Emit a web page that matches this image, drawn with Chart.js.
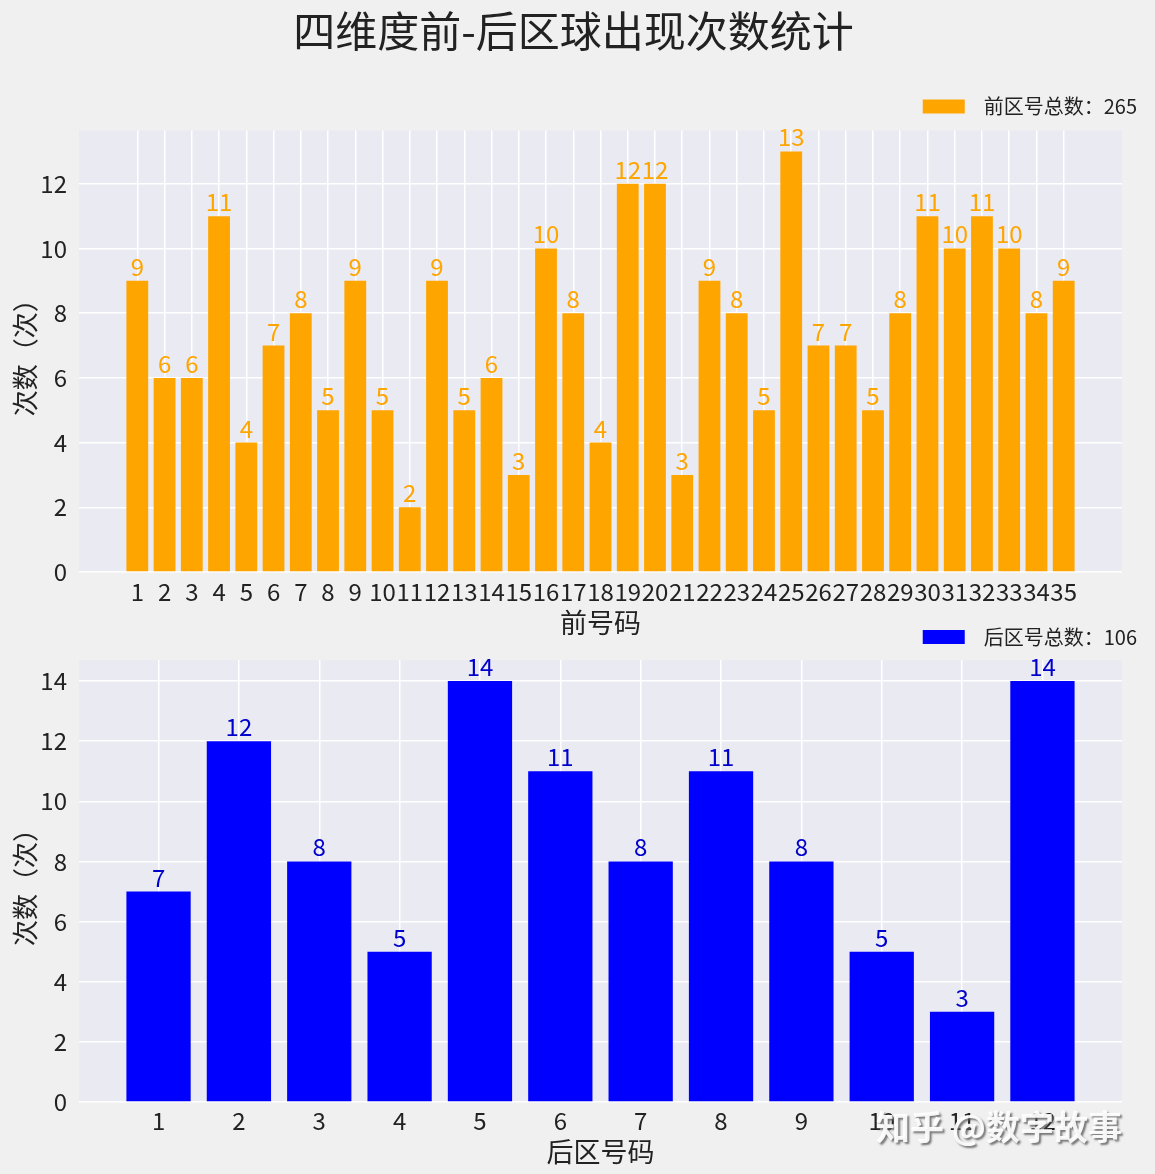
<!DOCTYPE html>
<html>
<head>
<meta charset="utf-8">
<script src="https://cdn.jsdelivr.net/npm/chart.js@4/dist/chart.umd.min.js"></script>
<style>
  html, body { margin: 0; padding: 0; background: #f0f0f0; }
  #wrap { position: relative; width: 1155px; height: 1174px; overflow: hidden; }
  canvas { position: absolute; left: 0; }
  #c1 { top: 0; }
  #c2 { top: 600px; }
  #wm { position: absolute; left: 876px; top: 1101px; font-family: "Noto Sans CJK SC"; font-size: 34px; font-weight: bold;
        color: rgba(255,255,255,0.92); text-shadow: 2px 2px 2px rgba(90,90,90,0.8); white-space: nowrap; }
</style>
</head>
<body>
<div id="wrap">
  <canvas id="c1" width="1155" height="645"></canvas>
  <canvas id="c2" width="1155" height="574"></canvas>
  <div id="wm">知乎 @数字故事</div>
</div>
<script>
// ---- data ----
const frontCategories = [1,2,3,4,5,6,7,8,9,10,11,12,13,14,15,16,17,18,19,20,21,22,23,24,25,26,27,28,29,30,31,32,33,34,35];
const frontValues = [9,6,6,11,4,7,8,5,9,5,2,9,5,6,3,10,8,4,12,12,3,9,8,5,13,7,7,5,8,11,10,11,10,8,9];
const backCategories = [1,2,3,4,5,6,7,8,9,10,11,12];
const backValues = [7,12,8,5,14,11,8,11,8,5,3,14];
const frontYTicks = [0,2,4,6,8,10,12];
const backYTicks = [0,2,4,6,8,10,12,14];
const chartTitle = '四维度前-后区球出现次数统计';
const yTitle = '次数（次）';
const frontXTitle = '前号码';
const backXTitle = '后区号码';
const frontLegend = '前区号总数：' + frontValues.reduce((a, b) => a + b, 0);
const backLegend = '后区号总数：' + backValues.reduce((a, b) => a + b, 0);

const FONT = '"Noto Sans CJK SC", "Noto Sans", sans-serif';
const TEXT = '#222222';
Chart.defaults.font.family = FONT;
Chart.defaults.color = TEXT;

const bgPlugin = {
  id: 'plotBg',
  beforeDraw(chart) {
    const a = chart.chartArea, ctx = chart.ctx;
    ctx.save();
    ctx.fillStyle = '#eaeaf2';
    ctx.fillRect(a.left, a.top, a.right - a.left, a.bottom - a.top);
    ctx.restore();
  }
};
const labelPlugin = {
  id: 'barLabels',
  afterDatasetsDraw(chart, args, opts) {
    const ctx = chart.ctx;
    const ds = chart.data.datasets[0];
    const meta = chart.getDatasetMeta(0);
    ctx.save();
    ctx.font = '24px ' + FONT;
    ctx.fillStyle = opts.color;
    ctx.textAlign = 'center';
    ctx.textBaseline = 'alphabetic';
    meta.data.forEach((el, i) => {
      ctx.fillText(String(ds.data[i].y), el.x, el.y - 5);
    });
    ctx.restore();
  }
};

function makeChart(id, cats, vals, color, labelColor, legendText, xTitle, xMin, xMax, yMax, yTicks, canvasH, plotBottom, withTitle, topPad, topGap, tickPad) {
  return new Chart(document.getElementById(id), {
    type: 'bar',
    data: {
      datasets: [{
        label: legendText,
        data: cats.map((c, i) => ({ x: c, y: vals[i] })),
        backgroundColor: color,
        borderWidth: 0,
        categoryPercentage: 0.8,
        barPercentage: 1.0,
        xAxisID: 'x', yAxisID: 'y'
      }]
    },
    plugins: [bgPlugin, labelPlugin],
    options: {
      responsive: false,
      animation: false,
      layout: { padding: { left: 0, right: 8, top: topPad, bottom: 0 } },
      plugins: {
        barLabels: { color: labelColor },
        tooltip: { enabled: false },
        title: {
          display: withTitle,
          text: chartTitle,
          font: { size: 42, weight: 'normal' },
          color: TEXT,
          padding: { top: 6, bottom: 30 }
        },
        legend: {
          position: 'top',
          align: 'end',
          labels: {
            boxWidth: 42, boxHeight: 14, font: { size: 20 }, color: TEXT, padding: 10,
            generateLabels: (chart) => {
              const items = Chart.defaults.plugins.legend.labels.generateLabels(chart);
              items.forEach(it => { it.text = '  ' + it.text; });
              return items;
            }
          }
        }
      },
      scales: {
        x: {
          type: 'linear',
          position: 'bottom',
          min: xMin, max: xMax,
          offset: false,
          grid: { color: '#ffffff', lineWidth: 1.5, drawTicks: false, offset: false },
          border: { display: false },
          afterBuildTicks: (s) => { s.ticks = cats.map(v => ({ value: v })); },
          afterFit: (s) => { s.height = canvasH - plotBottom; },
          ticks: { autoSkip: false, maxRotation: 0, minRotation: 0, padding: tickPad, font: { size: 24 }, color: TEXT,
                   callback: (v) => String(v) },
          title: { display: true, text: xTitle, font: { size: 27 }, color: TEXT, padding: { top: 0, bottom: 6 } }
        },
        xT: {
          type: 'linear',
          position: 'top',
          display: true,
          grid: { display: false, drawTicks: false },
          border: { display: false },
          ticks: { display: false },
          afterFit: (s) => { s.height = topGap; }
        },
        y: {
          type: 'linear',
          position: 'left',
          min: 0, max: yMax,
          grid: { color: '#ffffff', lineWidth: 1.5, drawTicks: false },
          border: { display: false },
          afterBuildTicks: (s) => { s.ticks = yTicks.map(v => ({ value: v })); },
          afterFit: (s) => { s.width = 79; },
          ticks: { padding: 12, font: { size: 24 }, color: TEXT },
          title: { display: true, text: yTitle, font: { size: 26 }, color: TEXT, padding: { top: 10, bottom: 0 } }
        },
        yR: {
          type: 'linear',
          position: 'right',
          display: true,
          grid: { display: false, drawTicks: false },
          border: { display: false },
          ticks: { display: false },
          afterFit: (s) => { s.width = 25; }
        }
      }
    }
  });
}

makeChart('c1', frontCategories, frontValues, '#ffa500', '#ffa500', frontLegend, frontXTitle,
          -1.14, 37.14, 13.65, frontYTicks, 645, 572, true, 0, 4, 5);
makeChart('c2', backCategories, backValues, '#0000ff', '#0000cc', backLegend, backXTitle,
          0.01, 12.99, 14.7, backYTicks, 574, 502, false, 17, 3, 4);
</script>
</body>
</html>
